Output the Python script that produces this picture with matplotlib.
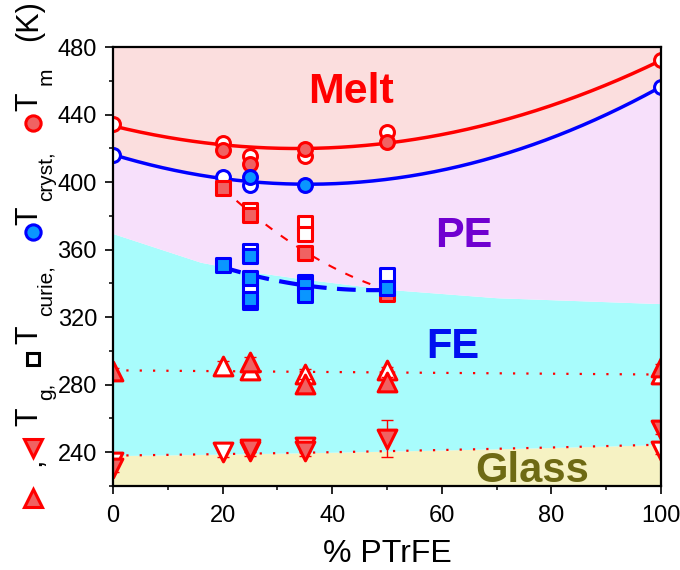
import numpy as np
import matplotlib
matplotlib.use("Agg")
import matplotlib.pyplot as plt
from matplotlib.lines import Line2D

plt.rcParams['font.family'] = ['Liberation Sans', 'DejaVu Sans']

# ---------------- data ----------------
# T_m (red circles)
tm_open_x = [0, 20, 25, 35, 50, 100]
tm_open_y = [434.5, 423, 415.5, 415.5, 429.5, 472.5]
tm_fill_x = [20, 25, 35, 50]
tm_fill_y = [419, 410.5, 419.5, 423.5]
# T_cryst (blue circles)
tc_open_x = [0, 20, 25, 100]
tc_open_y = [416, 403, 398, 456.5]
tc_fill_x = [25, 35]
tc_fill_y = [403, 398.5]
# T_curie red squares
cr_open_x = [25, 35, 35]
cr_open_y = [383.5, 375.5, 369]
cr_fill_x = [20, 25, 35, 50]
cr_fill_y = [396.5, 380.5, 358, 334]
# T_curie blue squares
cb_open_x = [25, 25, 25, 50]
cb_open_y = [359, 339, 329, 345]
cb_fill_x = [20, 25, 25, 25, 35, 35, 35, 50]
cb_fill_y = [351, 356, 343, 331, 341, 339, 333, 337]
# T_g up triangles
gu_open_x = [20, 25, 35, 50, 100]
gu_open_y = [291, 288.5, 286.5, 288.5, 286.5]
gu_open_e = [3, 3, 3, 2, 2]
gu_fill_x = [0, 25, 35, 50, 100]
gu_fill_y = [288, 293.5, 280.5, 281.5, 290.5]
gu_fill_e = [2, 3, 3, 3, 2]
# T_g down triangles
gd_open_x = [0, 20, 25, 35, 100]
gd_open_y = [234, 240, 241, 243, 241]
gd_open_e = [2, 3, 3, 2, 2]
gd_fill_x = [0, 25, 35, 50, 100]
gd_fill_y = [230.5, 242, 241, 248, 253]
gd_fill_e = [2, 2, 3, 11, 2]

# guide / fit curve nodes
melt_fit_x = [0, 20, 35, 50, 100]
melt_fit_y = [433.5, 421.8, 419.4, 423.7, 472]
cryst_fit_x = [0, 20, 35, 100]
cryst_fit_y = [416, 403, 398.1, 456.5]
red_dash_x = [20, 25, 35, 50]
red_dash_y = [397, 381, 359.6, 336]
blue_dash_x = [20, 30, 44, 50]
blue_dash_y = [349.7, 341.4, 336.4, 336]
fe_bound_x = [0, 8, 16, 25, 35, 50, 70, 100]
fe_bound_y = [369.5, 361, 352.5, 347, 342.5, 336.5, 331.5, 328]
glass_x = [0, 40, 100]
glass_y = [238, 240, 244.5]
tg_dot_x = [0, 100]
tg_dot_y = [288.5, 286]

# --------------- figure ---------------
fig = plt.figure(figsize=(6.8, 5.7), dpi=100)
ax = fig.add_axes([113/680, 1-486/570, (661-113)/680, (486-47)/570])

xf = np.linspace(0, 100, 400)
melt_c = np.polyval(np.polyfit(melt_fit_x, melt_fit_y, 2), xf)
cryst_c = np.polyval(np.polyfit(cryst_fit_x, cryst_fit_y, 2), xf)
fe_c = np.interp(xf, fe_bound_x, fe_bound_y)
gl_c = np.polyval(np.polyfit(glass_x, glass_y, 2), xf)

ax.fill_between(xf, 220, gl_c, color='#F6F2C3', lw=0)
ax.fill_between(xf, gl_c, fe_c, color='#A8FCFC', lw=0)
ax.fill_between(xf, fe_c, cryst_c, color='#F7E0FB', lw=0)
ax.fill_between(xf, cryst_c, 480, color='#FBDEDE', lw=0)

RED = '#FF0000'
BLUE = '#0000FF'
RFACE = '#F06262'
BFACE = '#0A96FF'

# lines
ax.plot(xf, melt_c, color=RED, lw=2.5, zorder=3)
ax.plot(xf, cryst_c, color=BLUE, lw=2.5, zorder=3)
ax.plot(xf, gl_c, color=RED, lw=1.6, ls=(0, (1, 5)), zorder=3)
ax.plot(tg_dot_x, tg_dot_y, color=RED, lw=1.6, ls=(0, (1, 5)), zorder=3)

xr = np.linspace(20, 50, 100)
ax.plot(xr, np.polyval(np.polyfit(red_dash_x, red_dash_y, 2), xr), color=RED,
        lw=1.5, ls=(0, (4, 5)), zorder=5)
ax.plot(xr, np.polyval(np.polyfit(blue_dash_x, blue_dash_y, 2), xr), color=BLUE,
        lw=3.0, ls=(0, (4.5, 2.5)), zorder=6)

ms_c = 10
ms_s = 10
ms_t = 13.5
mew = 2.2

def pts(x, y, marker, ms, face, edge, z, yerr=None):
    if yerr is not None:
        ax.errorbar(x, y, yerr=yerr, fmt='none', ecolor=edge, elinewidth=1.0,
                    capsize=4, capthick=1.0, zorder=z)
    ax.scatter(x, y, s=ms**2, marker=marker, facecolors=face, edgecolors=edge,
               linewidths=mew, zorder=z, clip_on=True)

pts(tm_open_x, tm_open_y, 'o', ms_c, 'white', RED, 7)
pts(tm_fill_x, tm_fill_y, 'o', ms_c, RFACE, RED, 8)
pts(tc_open_x, tc_open_y, 'o', ms_c, 'white', BLUE, 7)
pts(tc_fill_x, tc_fill_y, 'o', ms_c, BFACE, BLUE, 8)
pts(cr_open_x, cr_open_y, 's', ms_s, 'white', RED, 7)
pts(cr_fill_x, cr_fill_y, 's', ms_s, RFACE, RED, 8)
pts(cb_open_x, cb_open_y, 's', ms_s, 'white', BLUE, 9)
pts(cb_fill_x, cb_fill_y, 's', ms_s, BFACE, BLUE, 10)
pts(gu_open_x, gu_open_y, '^', ms_t, 'white', RED, 7, gu_open_e)
pts(gu_fill_x, gu_fill_y, '^', ms_t, RFACE, RED, 8, gu_fill_e)
pts(gd_open_x, gd_open_y, 'v', ms_t, 'white', RED, 7, gd_open_e)
pts(gd_fill_x, gd_fill_y, 'v', ms_t, RFACE, RED, 8, gd_fill_e)

# region labels
ax.text(43.5, 446.6, 'Melt', color='#FF0000', fontsize=31, fontweight='bold',
        ha='center', va='baseline', zorder=12)
ax.text(64.0, 361.3, 'PE', color='#7000D0', fontsize=31, fontweight='bold',
        ha='center', va='baseline', zorder=12)
ax.text(62.0, 296.0, 'FE', color='#0010F0', fontsize=30, fontweight='bold',
        ha='center', va='baseline', zorder=12)
ax.text(76.5, 222.3, 'Glass', color='#6E6A14', fontsize=30, fontweight='bold',
        ha='center', va='baseline', zorder=12)

# axes styling
ax.set_xlim(0, 100)
ax.set_ylim(220, 480)
ax.set_xticks(np.arange(0, 101, 20))
ax.set_xticks(np.arange(0, 101, 10), minor=True)
ax.set_yticks(np.arange(240, 481, 40))
ax.set_yticks(np.arange(220, 481, 20), minor=True)
ax.tick_params(which='major', direction='out', length=5.5, width=1.2,
               labelsize=17, pad=6)
ax.tick_params(which='minor', direction='out', length=3.2, width=1.1)
ax.tick_params(axis='x', pad=8)
for s in ax.spines.values():
    s.set_linewidth(1.6)
    s.set_zorder(20)
ax.set_xlabel('% PTrFE', fontsize=23, labelpad=9)

# composite y label built from text + markers (figure pixel coords)
def fx(px):
    return px / 680

def fy(py):
    return 1 - py / 570

def ftxt(px, py, s, size):
    fig.text(fx(px), fy(py), s, rotation=90, rotation_mode='anchor',
             ha='left', va='baseline', fontsize=size, color='black')

def fmark(px, py, marker, ms, face, edge, lw=2.2):
    fig.add_artist(Line2D([fx(px)], [fy(py)], transform=fig.transFigure,
                          marker=marker, ms=ms, mfc=face, mec=edge, mew=lw,
                          ls='none'))

base = 37
sub = 52
fmark(33, 498, '^', 12.5, RFACE, RED)
ftxt(base + 3, 466, ',', 22)
fmark(33, 448, 'v', 12.5, RFACE, RED)
ftxt(base, 426, 'T', 22)
ftxt(sub, 400, 'g,', 15)
fmark(33, 359, 's', 8.5, 'white', 'black', 2.2)
ftxt(base, 344, 'T', 22)
ftxt(sub, 316, 'curie,', 15)
fmark(33, 232, 'o', 11, BFACE, BLUE)
ftxt(base, 225, 'T', 22)
ftxt(sub, 201, 'cryst,', 15)
fmark(33, 123, 'o', 11, RFACE, RED)
ftxt(base, 111, 'T', 22)
ftxt(sub, 85, 'm', 15)
ftxt(base, 41, '(K)', 22)

fig.savefig('out.png', dpi=100)
